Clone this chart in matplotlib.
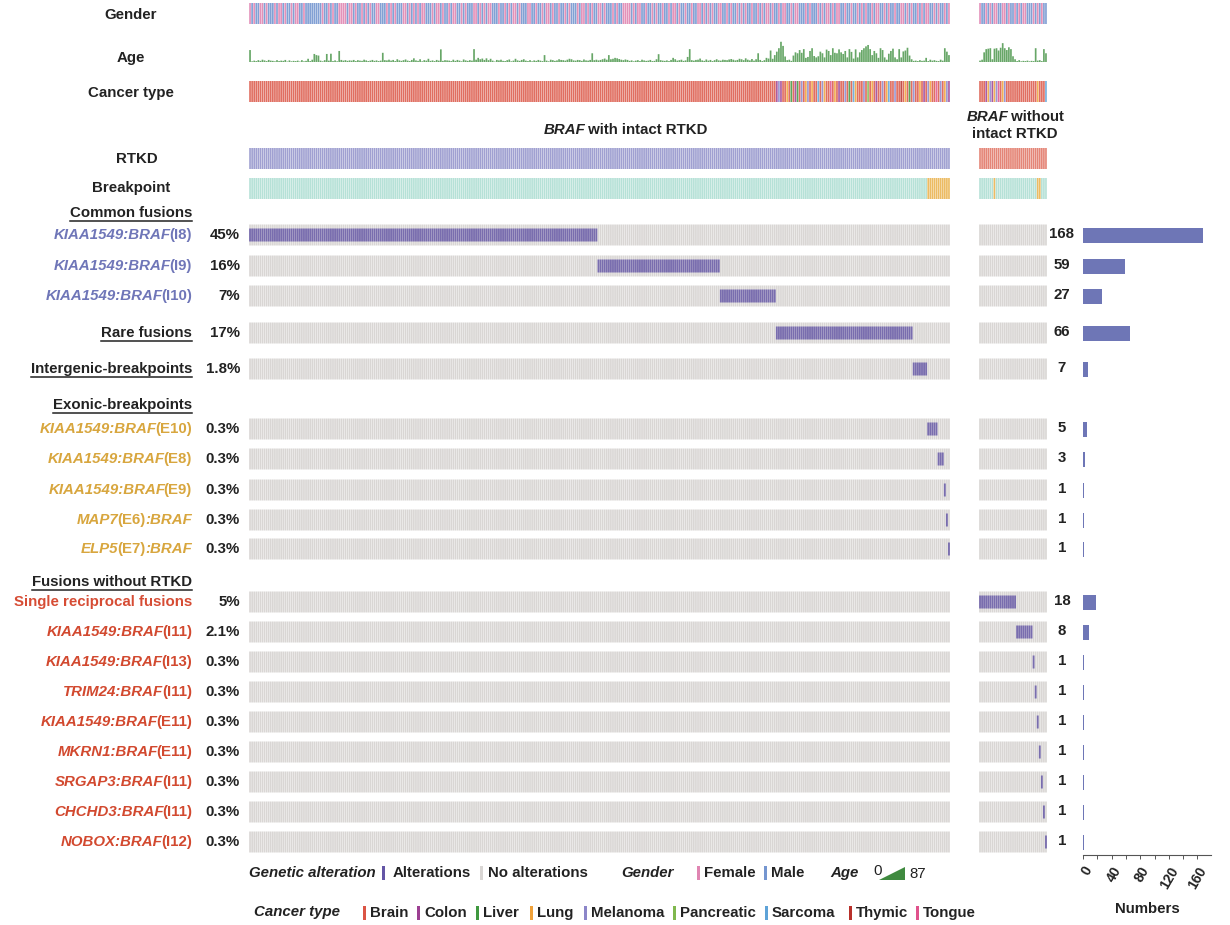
import re
import matplotlib
matplotlib.use("Agg")
import matplotlib.pyplot as plt
from matplotlib.patches import Polygon, Rectangle

plt.rcParams['font.family'] = ['Liberation Sans', 'DejaVu Sans']

W, H = 1230, 925

# ---------------- data ----------------
row_names = ["KIAA1549:BRAF(I8)", "KIAA1549:BRAF(I9)", "KIAA1549:BRAF(I10)",
             "Rare fusions", "Intergenic-breakpoints",
             "KIAA1549:BRAF(E10)", "KIAA1549:BRAF(E8)", "KIAA1549:BRAF(E9)",
             "MAP7(E6):BRAF", "ELP5(E7):BRAF",
             "Single reciprocal fusions", "KIAA1549:BRAF(I11)", "KIAA1549:BRAF(I13)",
             "TRIM24:BRAF(I11)", "KIAA1549:BRAF(E11)", "MKRN1:BRAF(E11)",
             "SRGAP3:BRAF(I11)", "CHCHD3:BRAF(I11)", "NOBOX:BRAF(I12)"]
row_pcts = ["45%", "16%", "7%", "17%", "1.8%",
            "0.3%", "0.3%", "0.3%", "0.3%", "0.3%",
            "5%", "2.1%", "0.3%", "0.3%", "0.3%", "0.3%", "0.3%", "0.3%", "0.3%"]
row_counts = [168, 59, 27, 66, 7, 5, 3, 1, 1, 1, 18, 8, 1, 1, 1, 1, 1, 1, 1]
row_group = ["intact"] * 10 + ["without"] * 9
row_kind = ["common"] * 3 + ["heading", "heading"] + ["exonic"] * 5 + ["single"] + ["norkd"] * 8

headings = ["Common fusions", "Exonic-breakpoints", "Fusions without RTKD"]

# per-sample annotation tracks (left: BRAF with intact RTKD, right: without)
gender_left = ("FMFMMFFMFM MMFMFFMFMM FMFFMMFMMM MMMMMFMMFM FMMFFFFMFF MFMMFMFMFM MFFMMMFMFM FMMMFFMFMF "
               "MFMFFMMMFM FFMFMMFMFF MMFMFMMMFF MFMFMFFMMM FMMFMFMFFM FMMMFFMMFM MFMFFMFMMF MMFMFMMMFM "
               "FFMFMFMMFF MFMMMFMFMM FFFFMFMFFM MFMMFMFMMF MMFMFFMFMM FMMFMMFFMF MFMFMMFFMM FMFMMFMFMF "
               "MMFMMFMFMF FMFMMFMFFM MFMFFMMMFM FMMMFMFMFF MFMFFMMFMM FMMFMFMFMM FMFFMMFMFM MFMMFFMFMF "
               "MMFMFMFFMM FMFMMFMF").replace(" ", "")
gender_right = "FMMFMFMFFM MFFMFMMFMF MFFMMMFMFM FMM".replace(" ", "")

age_left = [52, 3, 6, 4, 8, 5, 10, 7, 4, 9, 6, 5, 3, 8, 4, 6, 5, 9, 2, 7, 3, 5, 4, 6, 2, 8, 3, 5, 14, 4,
            10, 35, 30, 28, 6, 3, 8, 35, 6, 36, 4, 7, 3, 48, 9, 6, 8, 5, 7, 6, 9, 4, 8, 6, 5, 10, 7, 4, 6, 9,
            5, 7, 4, 6, 40, 8, 7, 10, 6, 9, 4, 12, 7, 5, 8, 11, 6, 4, 9, 16, 7, 5, 12, 3, 8, 6, 14, 5, 7, 4,
            9, 6, 55, 5, 8, 7, 6, 4, 10, 5, 9, 6, 3, 11, 7, 5, 8, 6, 56, 10, 18, 12, 15, 9, 16, 8, 14, 6, 2, 9,
            7, 10, 5, 4, 8, 11, 3, 6, 14, 7, 5, 9, 12, 6, 4, 8, 3, 7, 5, 9, 6, 4, 30, 6, 3, 10, 8, 5, 7, 12,
            9, 8, 6, 10, 14, 12, 7, 6, 9, 8, 5, 11, 7, 6, 9, 38, 8, 10, 7, 9, 12, 15, 10, 30, 12, 14, 18, 16, 13, 10,
            8, 11, 9, 5, 7, 3, 6, 8, 4, 10, 7, 5, 6, 9, 4, 5, 12, 34, 8, 6, 5, 7, 4, 9, 18, 12, 6, 8, 10, 5,
            7, 22, 56, 8, 6, 9, 10, 15, 7, 5, 11, 6, 9, 4, 8, 12, 7, 6, 10, 9, 8, 11, 13, 10, 7, 9, 14, 12, 8, 16,
            10, 7, 13, 6, 12, 38, 9, 4, 8, 18, 15, 50, 14, 30, 45, 60, 88, 70, 24, 8, 10, 5, 28, 42, 38, 52, 40, 56, 18, 22,
            48, 60, 26, 20, 25, 45, 38, 20, 54, 48, 30, 60, 40, 38, 55, 42, 35, 48, 20, 56, 44, 15, 55, 20, 42, 52, 60, 68, 74, 56,
            30, 48, 38, 18, 60, 52, 20, 10, 36, 48, 58, 20, 12, 56, 20, 46, 50, 62, 28, 12, 5, 6, 4, 8, 5, 6, 18, 4, 10, 6,
            8, 5, 4, 10, 6, 60, 45, 30]
age_right = [6, 10, 42, 56, 58, 60, 12, 58, 60, 50, 62, 82, 60, 52, 64, 56, 25, 12, 4, 8, 3, 5, 4, 6, 3, 5, 4, 60, 6, 8, 4, 56, 38]

# B brain, C colon, L liver, U lung, M melanoma, P pancreatic, S sarcoma, T thymic, G tongue
cancer_left = "B" * 254 + ("CMCB BUBL BCLB MBUM BUBB SBMU BBGB UBCB BMBL BSUB BBMB PBUB CBBM BUSB "
                           "BMBB TBUB LBMB BUBC BMUB BGBM BUMC").replace(" ", "")
cancer_right = "BBBCU MCUMG BUMBB BBBBB BBBBB BBBUB BBS".replace(" ", "")

# I intronic, E exonic breakpoint
breakpoint_left = "I" * 327 + "E" * 11
breakpoint_right = "IIIIIIIEIIIIIIIIII IIIIIIII IIEEIIII".replace(" ", "")

cancer_names = ["Brain", "Colon", "Liver", "Lung", "Melanoma", "Pancreatic", "Sarcoma", "Thymic", "Tongue"]
cancer_codes = ["B", "C", "L", "U", "M", "P", "S", "T", "G"]
cancer_colors = ["#db5545", "#9c3f92", "#3f983f", "#f0a23a", "#8c86c9", "#80b84e", "#5ea3d8", "#b8302a", "#e0528c"]

# ---------------- styles ----------------
C_ALT = "#6456a6"
C_NOALT = "#d9d6d4"
C_RTKD = "#8f90c9"
C_NORTKD = "#e0705f"
C_INTRON = "#a9dcd0"
C_EXON = "#e9b048"
C_F, C_M = "#e085b2", "#7596d0"
C_AGE = "#4c974c"
C_BAR = "#6e76b6"
C_TXT = "#222222"
kind_color = {"common": "#6f76b8", "heading": C_TXT, "exonic": "#d8a63e",
              "single": "#d64c34", "norkd": "#d2492f"}

row_y = [235, 266, 296, 333, 369, 429, 459, 490, 520, 549,
         602, 632, 662, 692, 722, 752, 782, 812, 842]
heading_y = [213, 405, 582]
FS = 10.8

fig = plt.figure(figsize=(W / 100, H / 100), dpi=100)


def px_axes(x0, x1, y0, y1):
    return fig.add_axes([x0 / W, 1 - y1 / H, (x1 - x0) / W, (y1 - y0) / H])


code2col = dict(zip(cancer_codes, cancer_colors))


def cols(ax, xs, h, bottom, color, alpha=0.85, w=0.82):
    ax.bar(xs, h, bottom=bottom, width=w, color=color, alpha=alpha, snap=False, lw=0)


def draw_panel(ax, group, gender, age, cancer, bp):
    n = len(gender)
    xs = [i + 0.5 for i in range(n)]
    cols(ax, xs, 21, 3, [C_F if g == "F" else C_M for g in gender], alpha=0.9)
    hs = [a / 87 * 20 for a in age]
    cols(ax, xs, hs, [62 - h for h in hs], C_AGE)
    cols(ax, xs, 21, 81, [code2col[c] for c in cancer])
    cols(ax, xs, 21, 148, C_RTKD if group == "intact" else C_NORTKD)
    cols(ax, xs, 21, 178, [C_EXON if b == "E" else C_INTRON for b in bp])
    start = 0
    for y, cnt, g in zip(row_y, row_counts, row_group):
        cols(ax, xs, 21, y - 10.5, C_NOALT, alpha=1)
        if g == group:
            cols(ax, xs[start:start + cnt], 13, y - 6.5, C_ALT, alpha=0.82, w=0.9)
            start += cnt
    ax.set_xlim(0, n)
    ax.set_ylim(H, 0)
    ax.axis("off")


ax_l = px_axes(249, 950, 0, H)
draw_panel(ax_l, "intact", gender_left, age_left, cancer_left, breakpoint_left)
ax_r = px_axes(979, 1047, 0, H)
draw_panel(ax_r, "without", gender_right, age_right, cancer_right, breakpoint_right)

# bar chart of numbers
ax_b = px_axes(1083, 1211, 0, 855)
ax_b.barh(row_y, row_counts, height=15, color=C_BAR)
ax_b.set_xlim(0, 179)
ax_b.set_ylim(855, 0)
for s in ["left", "right", "top"]:
    ax_b.spines[s].set_visible(False)
ax_b.spines["bottom"].set_color("#555555")
ax_b.spines["bottom"].set_linewidth(0.8)
ax_b.set_yticks([])
ax_b.set_xticks([0, 40, 80, 120, 160])
ax_b.set_xticks(range(0, 180, 20), minor=True)
ax_b.tick_params(axis="x", which="both", length=3, width=0.7, color="#555555")
ax_b.set_xticklabels(["0", "40", "80", "120", "160"], rotation=60, ha="right",
                     rotation_mode="anchor", fontsize=10, fontweight="bold", color=C_TXT)
ax_b.patch.set_alpha(0)

# text layer in pixel units
ax_t = px_axes(0, W, 0, H)
ax_t.set_xlim(0, W)
ax_t.set_ylim(H, 0)
ax_t.axis("off")
ax_t.patch.set_alpha(0)

renderer = fig.canvas.get_renderer()


def put_parts(x, y, parts, ha="right", color=C_TXT, size=FS, underline=False, weight="bold"):
    inv = ax_t.transData.inverted()
    texts, widths = [], []
    prev_it = None
    for s, it in parts:
        if not s:
            continue
        t = ax_t.text(0, y, s, fontsize=size, fontweight=weight,
                      fontstyle="italic" if it else "normal", color=color, ha="left", va="center")
        bb = t.get_window_extent(renderer)
        w = inv.transform((bb.x1, 0))[0] - inv.transform((bb.x0, 0))[0]
        if prev_it and not it and widths:
            widths[-1] -= 1.5   # bring the bracket close to the italic name
        widths.append(w)
        texts.append(t)
        prev_it = it
    total = sum(widths)
    x0 = x - total if ha == "right" else (x - total / 2 if ha == "center" else x)
    cur = x0
    for t, w in zip(texts, widths):
        t.set_x(cur)
        cur += w
    if underline:
        ax_t.plot([x0, x0 + total], [y + 8, y + 8], color=color, lw=1.1)


def fusion_parts(name):
    return [(p, not p.startswith("(")) for p in re.split(r"(\([^)]*\))", name) if p]


# track labels
for lab, y, x in [("Gender", 15, 131), ("Age", 58, 131), ("Cancer type", 93, 131),
                  ("RTKD", 159, 137), ("Breakpoint", 188, 131)]:
    put_parts(x, y, [(lab, False)], ha="center")

for lab, y in zip(headings, heading_y):
    put_parts(192, y, [(lab, False)], underline=True)

for name, y, pct, cnt, kind in zip(row_names, row_y, row_pcts, row_counts, row_kind):
    col = kind_color[kind]
    if kind == "heading":
        put_parts(192, y, [(name, False)], underline=True)
    elif kind == "single":
        put_parts(192, y, [(name, False)], color=col)
    else:
        put_parts(192, y, fusion_parts(name), color=col)
    ax_t.text(240, y, pct, fontsize=FS, fontweight="bold", color=C_TXT, ha="right", va="center")
    ax_t.text(1062, y - 1, str(cnt), fontsize=FS, fontweight="bold", color=C_TXT, ha="center", va="center")

# panel titles
put_parts(626, 130, [("BRAF", True), (" with intact RTKD", False)], ha="center")
put_parts(1015, 117, [("BRAF", True), (" without", False)], ha="center")
put_parts(1015, 134, [("intact RTKD", False)], ha="center")

ax_t.text(1147, 909, "Numbers", fontsize=FS, fontweight="bold", color=C_TXT, ha="center", va="center")


# legends
def marker(x, y, color):
    ax_t.add_patch(Rectangle((x - 1.5, y - 7), 3.5, 14, color=color, lw=0))


ly1, ly2 = 873, 913
put_parts(249, ly1, [("Genetic alteration", True)], ha="left")
marker(383, ly1, C_ALT)
put_parts(393, ly1, [("Alterations", False)], ha="left")
marker(481, ly1, C_NOALT)
put_parts(488, ly1, [("No alterations", False)], ha="left")
put_parts(621, ly1, [("Gender", True)], ha="left")
marker(698, ly1, C_F)
put_parts(704, ly1, [("Female", False)], ha="left")
marker(765, ly1, C_M)
put_parts(771, ly1, [("Male", False)], ha="left")
put_parts(830, ly1, [("Age", True)], ha="left")
ax_t.text(873, ly1 - 2, "0", fontsize=FS, color=C_TXT, ha="left", va="center")
ax_t.add_patch(Polygon([(879, 880), (905, 867), (905, 880)], closed=True, color="#3f8a3f", lw=0))
ax_t.text(909, ly1 + 1, "87", fontsize=FS, color=C_TXT, ha="left", va="center")

put_parts(254, ly2 - 1, [("Cancer type", True)], ha="left")
cancer_leg_x = [364, 418, 477, 531, 585, 674, 766, 850, 917]
for xx, nm, cc in zip(cancer_leg_x, cancer_names, cancer_colors):
    marker(xx, ly2, cc)
    put_parts(xx + 6, ly2, [(nm, False)], ha="left")

fig.savefig("out.png", dpi=100)
